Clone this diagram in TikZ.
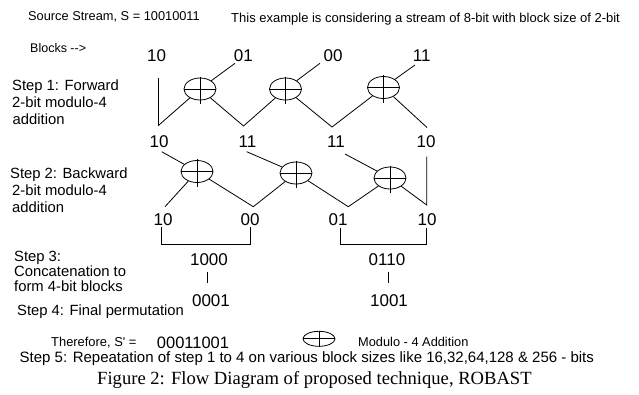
\documentclass[tikz,border=0pt]{standalone}
\usepackage{fontspec}
\setmainfont{Liberation Sans}[Ligatures=TeXOff]
\newfontfamily\capfont{Liberation Serif}
\usetikzlibrary{shapes.geometric}
\newcommand\myfs[1]{\fontsize{#1}{#1}\selectfont}
\begin{document}
\begin{tikzpicture}[x=1pt,y=-1pt,
 small/.style={anchor=base west,inner sep=0pt,font=\myfs{12.8}},
 steptext/.style={anchor=base west,inner sep=0pt,font=\myfs{14.8}},
 num/.style={anchor=base,inner sep=0pt,font=\myfs{17}},
 addop/.style={draw,ellipse,line width=0.8pt,minimum width=32pt,minimum height=22pt,inner sep=0pt},
 conn/.style={line width=0.8pt}]
\fill[white] (0,0) rectangle (639,394);
\useasboundingbox (0,0) rectangle (639,394);

% header texts
\node[small] (src) at (28,20.5) {Source Stream, S = 10010011};
\node[small,font=\myfs{13}] (note) at (231,22) {This example is considering a stream of 8-bit with block size of 2-bit};
\node[small,font=\myfs{12.5}] (blk) at (30,52.6) {Blocks -->};

% step labels
\node[steptext] (s1a) at (12,90.3) {Step 1: Forward};
\node[steptext] (s1b) at (12,107.3) {2-bit modulo-4};
\node[steptext] (s1c) at (12.5,124.3) {addition};
\node[steptext] (s2a) at (10,178.3) {Step 2: Backward};
\node[steptext] (s2b) at (12,195.3) {2-bit modulo-4};
\node[steptext] (s2c) at (12,212.3) {addition};
\node[steptext] (s3a) at (14,261.5) {Step 3:};
\node[steptext] (s3b) at (14,276) {Concatenation to};
\node[steptext] (s3c) at (14,291) {form 4-bit blocks};
\node[steptext] (s4) at (17,315) {Step 4: Final permutation};

% numbers
\node[num] (T1) at (156.7,61) {10};
\node[num] (T2) at (243.3,61) {01};
\node[num] (T3) at (333,61) {00};
\node[num] (T4) at (421.7,61) {11};
\node[num] (B1) at (159,147) {10};
\node[num] (B2) at (247.5,147) {11};
\node[num] (B3) at (336,147) {11};
\node[num] (B4) at (426,147) {10};
\node[num] (C1) at (163,225.5) {10};
\node[num] (C2) at (250,225.5) {00};
\node[num] (C3) at (338,225.5) {01};
\node[num] (C4) at (427,225.5) {10};
\node[num] (N1000) at (209,265) {1000};
\node[num] (N0001) at (211,306.5) {0001};
\node[num] (N0110) at (387,265) {0110};
\node[num] (N1001) at (389,306.5) {1001};

% adders
\node[addop] (E1) at (200,89) {};
\node[addop] (E2) at (285.5,89) {};
\node[addop] (E3) at (383.5,87.5) {};
\node[addop] (E4) at (197,171.5) {};
\node[addop] (E5) at (296,173) {};
\node[addop] (E6) at (390,178) {};
\foreach \e in {E1,E2,E3,E4,E5,E6}{
  \draw[conn] ([yshift=12.5pt]\e.center) -- ([yshift=-15pt]\e.center);
  \draw[conn] (\e.west) -- (\e.east);
}

% step 1 connectors
\coordinate (s1) at (158.4,78);
\coordinate (V1) at (158.4,125.5);
\coordinate (V2) at (243.5,126);
\coordinate (V3) at (332,127);
\coordinate (V4) at (427,127.5);
\coordinate (a2) at (235,63.3);
\coordinate (a3) at (320,63.3);
\coordinate (a4) at (415,65);
\draw[conn] (s1) -- (V1) -- (E1);
\draw[conn] (E1) -- (V2) -- (E2);
\draw[conn] (E2) -- (V3) -- (E3);
\draw[conn] (E3) -- (V4);
\draw[conn] (a2) -- (E1);
\draw[conn] (a3) -- (E2);
\draw[conn] (a4) -- (E3);

% step 2 connectors
\coordinate (b1) at (161.7,151.7);
\coordinate (w1) at (165,206.7);
\coordinate (V5) at (253.3,206.7);
\coordinate (b2) at (246.7,151.7);
\coordinate (V6) at (348.3,206.7);
\coordinate (b3) at (345,154);
\coordinate (b4) at (426.7,156.7);
\coordinate (V7) at (426.7,205);
\draw[conn] (b1) -- (E4);
\draw[conn] (E4) -- (w1);
\draw[conn] (E4) -- (V5) -- (E5);
\draw[conn] (b2) -- (E5);
\draw[conn] (E5) -- (V6) -- (E6);
\draw[conn] (b3) -- (E6);
\draw[conn] (b4) -- (V7) -- (E6);

% step 3 brackets
\coordinate (k1) at (161.7,227);
\coordinate (k1b) at (161.7,244);
\coordinate (k2) at (250,227);
\coordinate (k2b) at (250,244);
\coordinate (k3) at (340,228);
\coordinate (k3b) at (340,244.5);
\coordinate (k4) at (426.7,228);
\coordinate (k4b) at (426.7,244.5);
\draw[conn] (k1) -- (k1b) -- (k2b) -- (k2);
\draw[conn] (k3) -- (k3b) -- (k4b) -- (k4);

% step 4 stems
\coordinate (m1) at (207.3,271.7);
\coordinate (m2) at (207.3,283.3);
\coordinate (m3) at (388.3,271.7);
\coordinate (m4) at (388.3,283.3);
\draw[conn] (m1) -- (m2);
\draw[conn] (m3) -- (m4);

% result and legend
\node[small,font=\myfs{12.9}] (thf) at (51,346.3) {Therefore, S' =};
\node[num,font=\myfs{16.5}] (res) at (193,348.3) {00011001};
\node[addop,minimum height=15pt] (LG) at (319,338.8) {};
\draw[conn] ([yshift=8pt]LG.center) -- ([yshift=-8.5pt]LG.center);
\draw[conn] (LG.west) -- (LG.east);
\node[small] (leg) at (358,346.3) {Modulo - 4 Addition};
\node[steptext,font=\myfs{15}] (s5) at (19.5,362.5) {Step 5: Repeatation of step 1 to 4 on various block sizes like 16,32,64,128 \& 256 - bits};
\node[anchor=base west,inner sep=0pt,font=\capfont\myfs{18.6}] (cap) at (97,384) {Figure 2: Flow Diagram of proposed technique, ROBAST};
\end{tikzpicture}
\end{document}
